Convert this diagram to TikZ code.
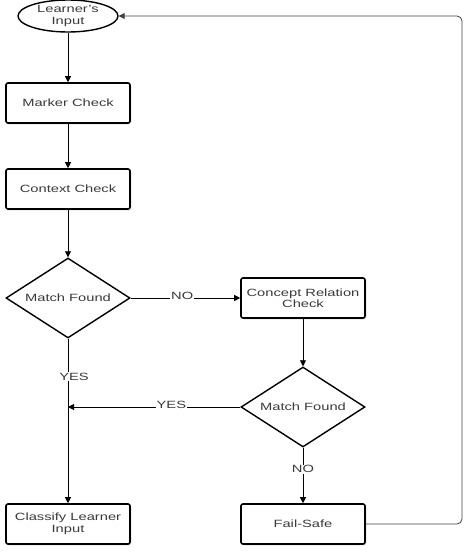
\documentclass[tikz,border=0pt]{standalone}
\usepackage{fontspec}
\setmainfont{Liberation Sans}[FakeStretch=1.4]
\usetikzlibrary{shapes.geometric,arrows.meta,shadows}
\definecolor{txtgray}{HTML}{3A3A3A}
\tikzset{every picture/.style={line width=0.75pt}}
\tikzset{
  lbl/.style={text=txtgray, font=\fontsize{10.5}{11.5}\selectfont, align=center},
  procbox/.style={lbl, draw, line width=1.6pt, rounded corners=2pt, fill=white,
    minimum width=124pt, minimum height=40pt, inner sep=0pt,
    drop shadow={opacity=0.2, shadow xshift=1.5pt, shadow yshift=-1.5pt}},
  decision/.style={lbl, draw, diamond, aspect=1.55, line width=1.4pt, fill=white,
    minimum width=124pt, minimum height=80pt, inner sep=0pt},
  startnode/.style={lbl, draw, ellipse, line width=1.4pt, fill=white,
    minimum width=100pt, minimum height=32pt, inner sep=0pt},
  flow/.style={line width=0.8pt, -{Triangle[length=6pt,width=6pt]}},
  edgelbl/.style={lbl, fill=white, inner sep=1pt}
}
\begin{document}
\begin{tikzpicture}[x=1pt,y=1pt,yscale=-1,xscale=1]
\useasboundingbox (0,0) rectangle (468,552);

% Start
\node [startnode] (input) at (68,16) {Learner's\\Input};
% Process boxes
\node [procbox] (marker) at (68,103) {Marker Check};
\node [procbox] (context) at (68,189) {Context Check};
\node [procbox] (concept) at (303,298) {Concept Relation\\Check};
\node [procbox] (classify) at (68,524) {Classify Learner\\Input};
\node [procbox] (failsafe) at (303,524) {Fail-Safe};
% Decisions
\node [decision] (match1) at (68,298) {Match Found};
\node [decision] (match2) at (303,407) {Match Found};

% Helper points
\coordinate (join) at (68,407);
\coordinate (backlow) at (462,524);
\coordinate (backtop) at (462,16);

% Connectors
\draw [flow] (input) -- (marker);
\draw [flow] (marker) -- (context);
\draw [flow] (context) -- (match1);
\draw [flow] (match1) -- node [edgelbl, pos=0.47, yshift=2pt] {NO} (concept);
\draw [flow] (match1) -- node [edgelbl, pos=0.23, xshift=6pt] {YES} (classify);
\draw [flow] (concept) -- (match2);
\draw [flow] (match2.west) -- node [edgelbl, pos=0.4, yshift=2pt] {YES} (join);
\draw [flow] (match2) -- node [edgelbl, pos=0.39] {NO} (failsafe);
\draw [flow, draw=black!75, rounded corners=5pt] (failsafe.east) -- (backlow) -- (backtop) -- (input.east);

\end{tikzpicture}
\end{document}
